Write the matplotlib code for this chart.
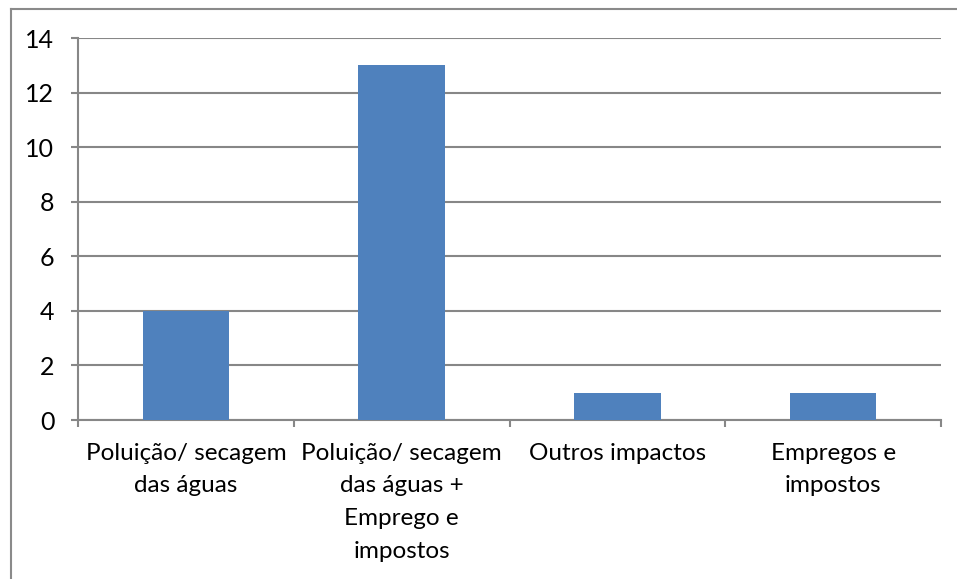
import matplotlib.pyplot as plt
from matplotlib.lines import Line2D

# Category labels and counts
categorias = [
    'Poluição/ secagem\ndas águas',
    'Poluição/ secagem\ndas águas +\nEmprego e\nimpostos',
    'Outros impactos',
    'Empregos e\nimpostos',
]
valores = [4, 13, 1, 1]

plt.rcParams['font.family'] = ['Lato', 'DejaVu Sans']

fig = plt.figure(figsize=(9.57, 5.79), dpi=100)
ax = fig.add_axes([78 / 957, 1 - 420 / 579, (941 - 78) / 957, (420 - 38) / 579])

x = range(len(valores))
ax.bar(x, valores, width=0.4, color='#4F81BD', zorder=3)

grid_color = '#878787'
ax.set_ylim(0, 14)
ax.set_yticks(range(0, 15, 2))
ax.set_xlim(-0.5, len(valores) - 0.5)
ax.yaxis.grid(True, color=grid_color, linewidth=1.5, zorder=0)

# labels at category centres, tick marks at the boundaries
ax.set_xticks(list(x))
ax.set_xticklabels(categorias, fontsize=17.5, linespacing=1.68)
ax.set_xticks([i - 0.5 for i in range(len(valores) + 1)], minor=True)
ax.tick_params(axis='x', which='major', length=0, pad=16.5)
ax.tick_params(axis='x', which='minor', length=5, width=1.5, color=grid_color)
ax.tick_params(axis='y', length=5, width=1.5, color=grid_color, labelsize=18, pad=12)

for side in ['top', 'right']:
    ax.spines[side].set_visible(False)
for side in ['left', 'bottom']:
    ax.spines[side].set_color(grid_color)
    ax.spines[side].set_linewidth(1.5)

# chart frame
fig.add_artist(Line2D([10.5 / 957, 10.5 / 957], [0, 1 - 8.5 / 579], transform=fig.transFigure,
                      color='#8a8a8a', linewidth=1.5))
fig.add_artist(Line2D([10.5 / 957, 1], [1 - 8.5 / 579, 1 - 8.5 / 579], transform=fig.transFigure,
                      color='#8a8a8a', linewidth=1.5))

fig.savefig('out.png', dpi=100)
